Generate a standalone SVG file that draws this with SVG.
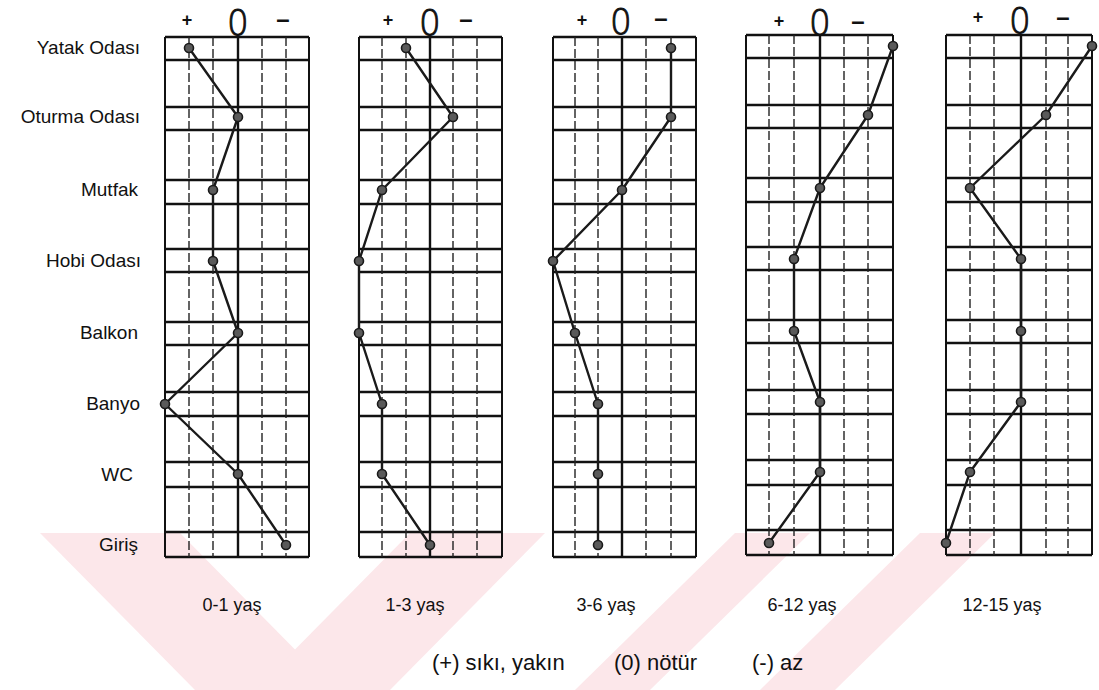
<svg xmlns="http://www.w3.org/2000/svg" width="1099" height="690" viewBox="0 0 1099 690">
<style>
.bg{fill:#ffffff}
.wm{fill:#fce7ea}
.hl{stroke:#111;stroke-width:2.4;fill:none}
.bd{stroke:#111;stroke-width:2;fill:none}
.ct{stroke:#111;stroke-width:2.4;fill:none}
.dl{stroke:#222;stroke-width:1.4;stroke-dasharray:9 3;fill:none}
.cn{stroke:#1a1a1a;stroke-width:2.4;fill:none;stroke-linejoin:round}
.dot{fill:#5a5a5a;stroke:#1a1a1a;stroke-width:1.6}
.lbl{font-family:"Liberation Sans",Arial,sans-serif;font-size:19px;fill:#111;text-anchor:end}
.age{font-family:"Liberation Sans",Arial,sans-serif;font-size:18px;fill:#111;text-anchor:middle}
.leg{font-family:"Liberation Sans",Arial,sans-serif;font-size:22px;fill:#111}
.pl{font-family:"Liberation Sans",Arial,sans-serif;font-size:18px;font-weight:bold;fill:#111;text-anchor:middle}
.zr{font-family:"DejaVu Sans","Liberation Sans",sans-serif;font-size:36px;font-weight:200;fill:#111;stroke:#111;stroke-width:0.9;text-anchor:middle}
.mn{font-family:"Liberation Sans",Arial,sans-serif;font-size:24px;font-weight:bold;fill:#111;text-anchor:middle}
</style>
<rect class="bg" x="0" y="0" width="1099" height="690"/>
<g id="watermark">
<polygon class="wm" points="40,533 180,533 335,690 195,690"/>
<polygon class="wm" points="255,690 390,690 545,533 410,533"/>
<polygon class="wm" points="575,690 650,690 810,533 735,533"/>
<polygon class="wm" points="760,690 835,690 995,533 920,533"/>
</g>
<g id="row-labels">
<text class="lbl" x="140" y="54">Yatak Odası</text>
<text class="lbl" x="140" y="123">Oturma Odası</text>
<text class="lbl" x="138" y="196">Mutfak</text>
<text class="lbl" x="141" y="267">Hobi Odası</text>
<text class="lbl" x="138" y="339">Balkon</text>
<text class="lbl" x="140" y="410">Banyo</text>
<text class="lbl" x="133" y="481">WC</text>
<text class="lbl" x="138" y="551">Giriş</text>
</g>
<g id="chart-0-1">
<text class="pl" x="187" y="26">+</text><text class="zr" transform="translate(238,35) scale(0.95,1)">0</text><text class="mn" x="283" y="27">–</text>
<g class="hl"><path d="M165 37H309M165 60H309M165 107H309M165 130H309M165 180H309M165 204H309M165 249H309M165 272H309M165 322H309M165 345H309M165 392H309M165 416H309M165 462H309M165 487H309M165 532H309M165 557H309"/></g>
<path class="dl" d="M189 37V557M213 37V557M262 37V557M286 37V557"/>
<path class="bd" d="M165 37V557M309 37V557"/>
<path class="ct" d="M238 37V557"/>
<text class="age" x="232" y="611">0-1 yaş</text>
</g>
<g id="chart-1-3">
<text class="pl" x="388" y="26">+</text><text class="zr" transform="translate(430,35) scale(0.95,1)">0</text><text class="mn" x="466" y="27">–</text>
<g class="hl"><path d="M359 37H502M359 60H502M359 107H502M359 130H502M359 180H502M359 204H502M359 249H502M359 272H502M359 322H502M359 345H502M359 392H502M359 416H502M359 462H502M359 487H502M359 532H502M359 557H502"/></g>
<path class="dl" d="M382 37V557M406 37V557M453 37V557M477 37V557"/>
<path class="bd" d="M359 37V557M502 37V557"/>
<path class="ct" d="M430 37V557"/>
<text class="age" x="415" y="611">1-3 yaş</text>
</g>
<g id="chart-3-6">
<text class="pl" x="582" y="26">+</text><text class="zr" transform="translate(621,34) scale(0.95,1)">0</text><text class="mn" x="661" y="26">–</text>
<g class="hl"><path d="M553 37H696M553 60H696M553 107H696M553 130H696M553 180H696M553 204H696M553 249H696M553 272H696M553 322H696M553 345H696M553 392H696M553 416H696M553 462H696M553 487H696M553 532H696M553 557H696"/></g>
<path class="dl" d="M575 37V557M598 37V557M646 37V557M671 37V557"/>
<path class="bd" d="M553 37V557M696 37V557"/>
<path class="ct" d="M622 37V557"/>
<text class="age" x="606" y="611">3-6 yaş</text>
</g>
<g id="chart-6-12">
<text class="pl" x="779" y="27">+</text><text class="zr" transform="translate(820,35) scale(0.95,1)">0</text><text class="mn" x="858" y="29">–</text>
<g class="hl"><path d="M746 35H893M746 58H893M746 105H893M746 128H893M746 178H893M746 202H893M746 247H893M746 270H893M746 320H893M746 343H893M746 390H893M746 414H893M746 460H893M746 485H893M746 530H893M746 555H893"/></g>
<path class="dl" d="M769 35V555M794 35V555M844 35V555M868 35V555"/>
<path class="bd" d="M746 35V555M893 35V555"/>
<path class="ct" d="M820 35V555"/>
<text class="age" x="802" y="611">6-12 yaş</text>
</g>
<g id="chart-12-15">
<text class="pl" x="978" y="23">+</text><text class="zr" transform="translate(1020,33) scale(0.95,1)">0</text><text class="mn" x="1063" y="25">–</text>
<g class="hl"><path d="M946 35H1092M946 58H1092M946 105H1092M946 128H1092M946 178H1092M946 202H1092M946 247H1092M946 270H1092M946 320H1092M946 343H1092M946 390H1092M946 414H1092M946 460H1092M946 485H1092M946 530H1092M946 555H1092"/></g>
<path class="dl" d="M970 35V555M994 35V555M1046 35V555M1068 35V555"/>
<path class="bd" d="M946 35V555M1092 35V555"/>
<path class="ct" d="M1021 35V555"/>
<text class="age" x="1002" y="611">12-15 yaş</text>
</g>
<g id="connectors">
<polyline class="cn" points="189,48 238,117 213,190 213,261 238,333 165,404 238,474 286,545"/>
<polyline class="cn" points="406,48 453,117 382,190 359,261 359,333 382,404 382,474 430,545"/>
<polyline class="cn" points="671,48 671,117 622,190 553,261 575,333 598,404 598,474 598,545"/>
<polyline class="cn" points="893,46 868,115 820,188 794,259 794,331 820,402 820,472 769,543"/>
<polyline class="cn" points="1092,46 1046,115 970,188 1021,259 1021,331 1021,402 970,472 946,543"/>
</g>
<g id="points-0-1">
<circle id="p01-yatak" class="dot" cx="189" cy="48" r="4.5"/><circle id="p01-oturma" class="dot" cx="238" cy="117" r="4.5"/><circle id="p01-mutfak" class="dot" cx="213" cy="190" r="4.5"/><circle id="p01-hobi" class="dot" cx="213" cy="261" r="4.5"/><circle id="p01-balkon" class="dot" cx="238" cy="333" r="4.5"/><circle id="p01-banyo" class="dot" cx="165" cy="404" r="4.5"/><circle id="p01-wc" class="dot" cx="238" cy="474" r="4.5"/><circle id="p01-giris" class="dot" cx="286" cy="545" r="4.5"/>
</g>
<g id="points-1-3">
<circle id="p13-yatak" class="dot" cx="406" cy="48" r="4.5"/><circle id="p13-oturma" class="dot" cx="453" cy="117" r="4.5"/><circle id="p13-mutfak" class="dot" cx="382" cy="190" r="4.5"/><circle id="p13-hobi" class="dot" cx="359" cy="261" r="4.5"/><circle id="p13-balkon" class="dot" cx="359" cy="333" r="4.5"/><circle id="p13-banyo" class="dot" cx="382" cy="404" r="4.5"/><circle id="p13-wc" class="dot" cx="382" cy="474" r="4.5"/><circle id="p13-giris" class="dot" cx="430" cy="545" r="4.5"/>
</g>
<g id="points-3-6">
<circle id="p36-yatak" class="dot" cx="671" cy="48" r="4.5"/><circle id="p36-oturma" class="dot" cx="671" cy="117" r="4.5"/><circle id="p36-mutfak" class="dot" cx="622" cy="190" r="4.5"/><circle id="p36-hobi" class="dot" cx="553" cy="261" r="4.5"/><circle id="p36-balkon" class="dot" cx="575" cy="333" r="4.5"/><circle id="p36-banyo" class="dot" cx="598" cy="404" r="4.5"/><circle id="p36-wc" class="dot" cx="598" cy="474" r="4.5"/><circle id="p36-giris" class="dot" cx="598" cy="545" r="4.5"/>
</g>
<g id="points-6-12">
<circle id="p612-yatak" class="dot" cx="893" cy="46" r="4.5"/><circle id="p612-oturma" class="dot" cx="868" cy="115" r="4.5"/><circle id="p612-mutfak" class="dot" cx="820" cy="188" r="4.5"/><circle id="p612-hobi" class="dot" cx="794" cy="259" r="4.5"/><circle id="p612-balkon" class="dot" cx="794" cy="331" r="4.5"/><circle id="p612-banyo" class="dot" cx="820" cy="402" r="4.5"/><circle id="p612-wc" class="dot" cx="820" cy="472" r="4.5"/><circle id="p612-giris" class="dot" cx="769" cy="543" r="4.5"/>
</g>
<g id="points-12-15">
<circle id="p1215-yatak" class="dot" cx="1092" cy="46" r="4.5"/><circle id="p1215-oturma" class="dot" cx="1046" cy="115" r="4.5"/><circle id="p1215-mutfak" class="dot" cx="970" cy="188" r="4.5"/><circle id="p1215-hobi" class="dot" cx="1021" cy="259" r="4.5"/><circle id="p1215-balkon" class="dot" cx="1021" cy="331" r="4.5"/><circle id="p1215-banyo" class="dot" cx="1021" cy="402" r="4.5"/><circle id="p1215-wc" class="dot" cx="970" cy="472" r="4.5"/><circle id="p1215-giris" class="dot" cx="946" cy="543" r="4.5"/>
</g>
<g id="legend">
<text class="leg" x="432" y="670">(+) sıkı, yakın</text>
<text class="leg" x="614" y="670">(0) nötür</text>
<text class="leg" x="752" y="670">(-) az</text>
</g>
</svg>
